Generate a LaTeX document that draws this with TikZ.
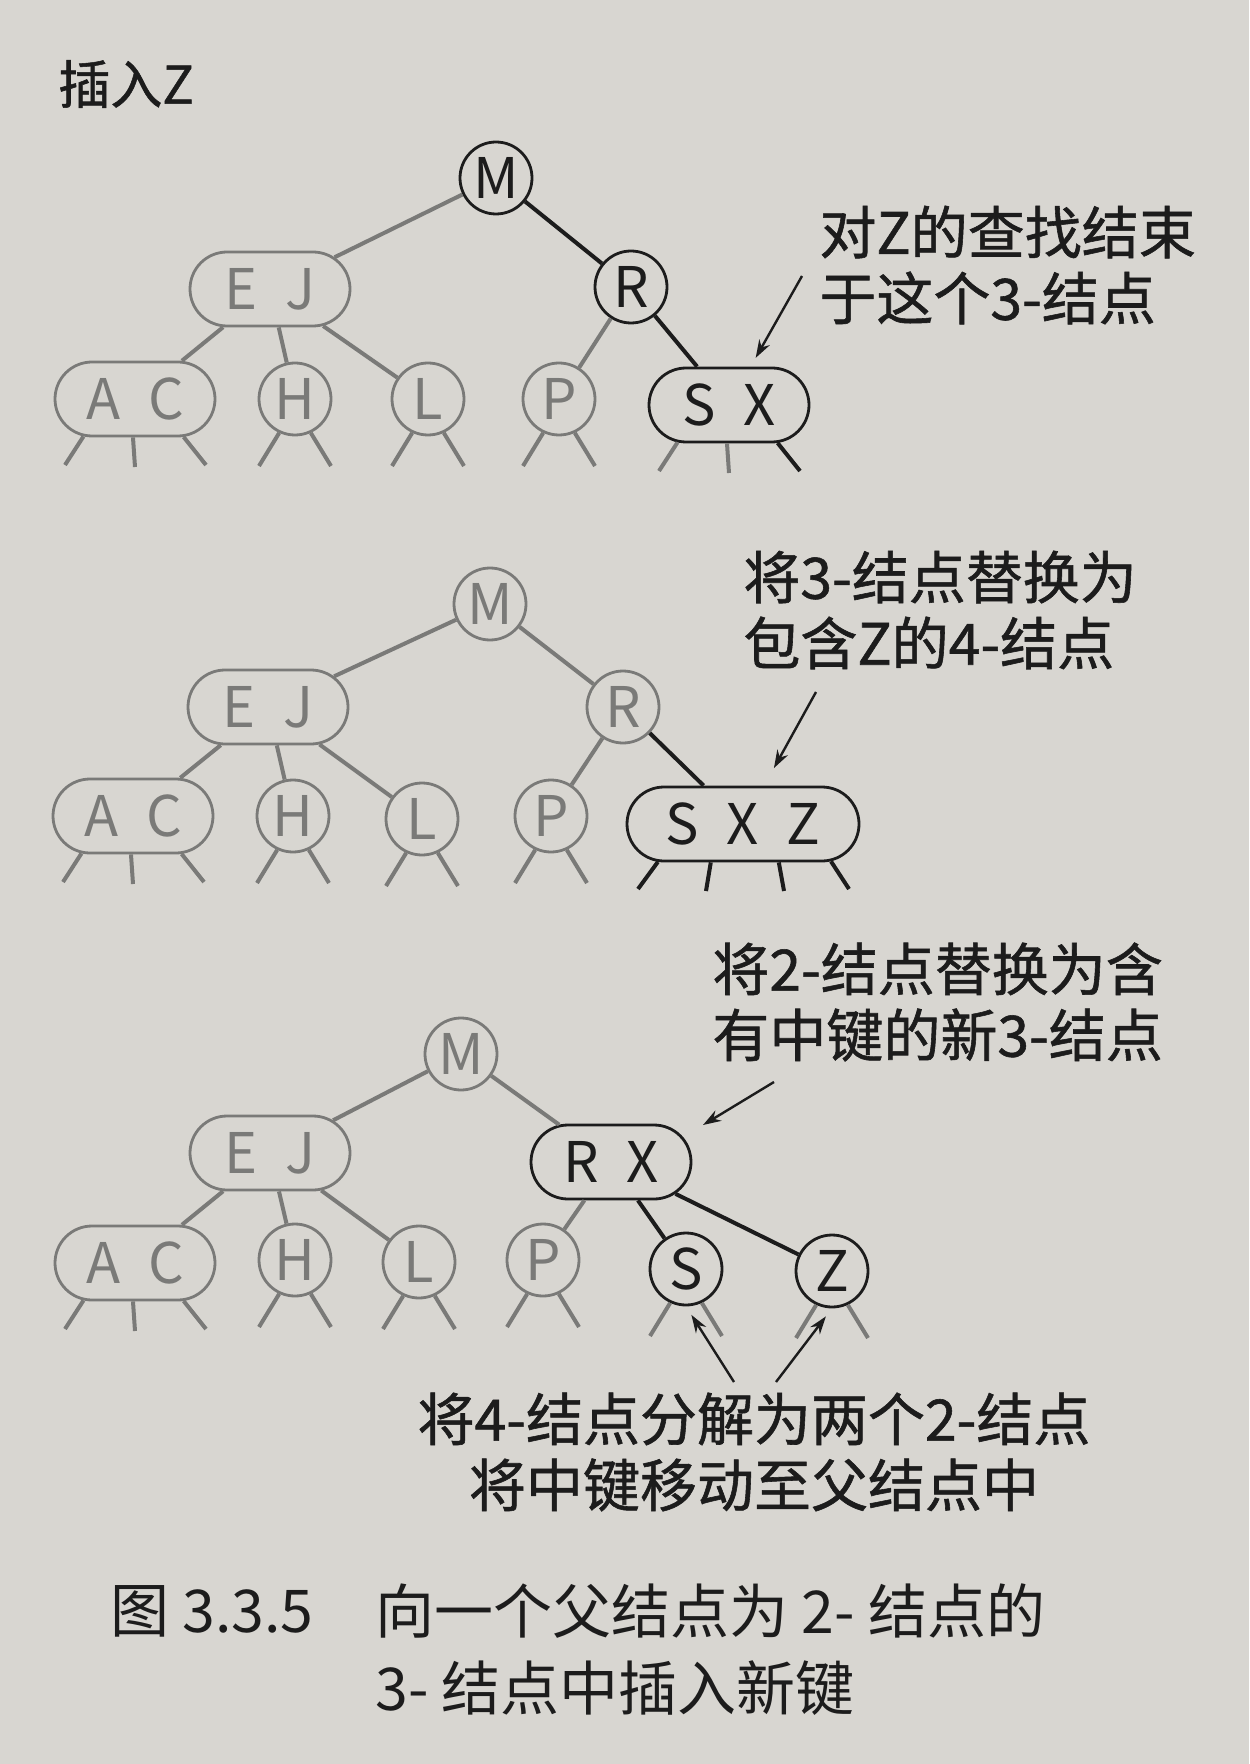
\documentclass[tikz,border=0pt]{standalone}
\usepackage{fontspec}
\usepackage{xcolor}
\setmainfont{Noto Sans CJK SC}
\newfontfamily\notefont{Noto Sans CJK SC}[FakeBold=1]
\newfontfamily\capfont{Noto Sans CJK SC}
\usetikzlibrary{shapes.misc, arrows.meta, calc}

\definecolor{paper}{RGB}{216,214,209}
\definecolor{inkdark}{RGB}{28,28,28}
\definecolor{inkpale}{RGB}{122,122,120}

\newcommand{\keygap}{\hspace{0.5em}}

\begin{document}
\begin{tikzpicture}[
    x=0.5pt, y=-0.5pt,
    key/.style={font=\fontsize{28}{30}\selectfont, line width=1.4pt, inner sep=1pt},
    twonode/.style={key, circle, minimum size=36pt},
    threenode/.style={key, rounded rectangle, minimum width=82pt, minimum height=37pt},
    fournode/.style={threenode, minimum width=118pt},
    pale/.style={draw=inkpale, text=inkpale},
    strong/.style={draw=inkdark, text=inkdark},
    palelink/.style={line width=2pt, draw=inkpale},
    stronglink/.style={line width=2pt, draw=inkdark},
    note/.style={font=\notefont\fontsize{28.5}{33}\selectfont, align=left, text=inkdark, inner sep=0pt},
    capnote/.style={font=\capfont\fontsize{29.5}{32}\selectfont, text=inkdark, inner sep=0pt},
    pointer/.style={-{Stealth[length=9pt,width=6pt]}, line width=1.2pt, draw=inkdark}
]

% Paper and page size
\fill[paper] (0,0) rectangle (1249,1764);
\useasboundingbox (0,0) rectangle (1249,1764);

% Title
\node[note, font=\notefont\fontsize{26}{28}\selectfont, anchor=west] (title) at (58,84) {插入Z};

% Tree 1: search for Z ends at the 3-node
\node[twonode, strong] (m1) at (496,178) {M};
\node[threenode, pale] (ej1) at (270,289) {E\keygap J};
\node[twonode, strong] (r1) at (631,287) {R};
\node[threenode, pale] (ac1) at (135,399) {A\keygap C};
\node[twonode, pale] (h1) at (295,399) {H};
\node[twonode, pale] (l1) at (428,399) {L};
\node[twonode, pale] (p1) at (559,399) {P};
\node[threenode, strong] (sx1) at (729,405) {S\keygap X};

\draw[palelink] (m1) -- (ej1);
\draw[stronglink] (m1) -- (r1);
\draw[palelink] (ej1) -- (ac1);
\draw[palelink] (ej1) -- (h1);
\draw[palelink] (ej1) -- (l1);
\draw[palelink] (r1) -- (p1);
\draw[stronglink] (r1) -- (sx1);

% Tree 2: the 3-node becomes a 4-node
\node[twonode, pale] (m2) at (490,604) {M};
\node[threenode, pale] (ej2) at (268,707) {E\keygap J};
\node[twonode, pale] (r2) at (623,707) {R};
\node[threenode, pale] (ac2) at (133,816) {A\keygap C};
\node[twonode, pale] (h2) at (293,816) {H};
\node[twonode, pale] (l2) at (422,819) {L};
\node[twonode, pale] (p2) at (551,816) {P};
\node[fournode, strong] (sxz2) at (743,824) {S\keygap X\keygap Z};

\draw[palelink] (m2) -- (ej2);
\draw[palelink] (m2) -- (r2);
\draw[palelink] (ej2) -- (ac2);
\draw[palelink] (ej2) -- (h2);
\draw[palelink] (ej2) -- (l2);
\draw[palelink] (r2) -- (p2);
\draw[stronglink] (r2) -- (sxz2);

% Tree 3: split, middle key moves up
\node[twonode, pale] (m3) at (461,1054) {M};
\node[threenode, pale] (ej3) at (270,1153) {E\keygap J};
\node[threenode, strong] (rx3) at (611,1162) {R\keygap X};
\node[threenode, pale] (ac3) at (135,1263) {A\keygap C};
\node[twonode, pale] (h3) at (295,1260) {H};
\node[twonode, pale] (l3) at (419,1262) {L};
\node[twonode, pale] (p3) at (543,1260) {P};
\node[twonode, strong] (s3) at (686,1269) {S};
\node[twonode, strong] (z3) at (832,1271) {Z};

\draw[palelink] (m3) -- (ej3);
\draw[palelink] (m3) -- (rx3);
\draw[palelink] (ej3) -- (ac3);
\draw[palelink] (ej3) -- (h3);
\draw[palelink] (ej3) -- (l3);
\draw[palelink] (rx3) -- (p3);
\draw[stronglink] (rx3) -- (s3);
\draw[stronglink] (rx3) -- (z3);

% Null links under the 2-nodes
\foreach \n in {h1,l1,p1,h2,l2,p2,h3,l3,p3,s3,z3} {
  \coordinate (\n-1) at ($(\n)+(-36,67)$);
  \coordinate (\n-2) at ($(\n)+(36,67)$);
  \draw[palelink] (\n.-115) -- (\n-1);
  \draw[palelink] (\n.-65) -- (\n-2);
}

% Null links under the 3-nodes
\foreach \n in {ac1,ac2,ac3,sx1} {
  \coordinate (\n-1) at ($(\n)+(-70,66)$);
  \coordinate (\n-2) at ($(\n)+(0,68)$);
  \coordinate (\n-3) at ($(\n)+(71,66)$);
}
\foreach \n in {ac1,ac2,ac3} {
  \draw[palelink] (\n.-144) -- (\n-1);
  \draw[palelink] (\n.-93) -- (\n-2);
  \draw[palelink] (\n.-38) -- (\n-3);
}
\draw[palelink] (sx1.-144) -- (sx1-1);
\draw[palelink] (sx1.-93) -- (sx1-2);
\draw[stronglink] (sx1.-38) -- (sx1-3);

% Null links under the 4-node
\coordinate (sxz2-1) at ($(sxz2)+(-105,65)$);
\coordinate (sxz2-2) at ($(sxz2)+(-37,67)$);
\coordinate (sxz2-3) at ($(sxz2)+(41,67)$);
\coordinate (sxz2-4) at ($(sxz2)+(106,65)$);
\draw[stronglink] (sxz2.-156) -- (sxz2-1);
\draw[stronglink] (sxz2.-130) -- (sxz2-2);
\draw[stronglink] (sxz2.-47) -- (sxz2-3);
\draw[stronglink] (sxz2.-23) -- (sxz2-4);

% Notes and pointers
\node[note, anchor=west] (note1) at (819,265) {对Z的查找结束\\于这个3-结点};
\coordinate (tail1) at (802,276);
\draw[pointer, shorten >=5pt] (tail1) -- (sx1);

\node[note, anchor=west] (note2) at (743,610) {将3-结点替换为\\包含Z的4-结点};
\coordinate (tail2) at (816,692);
\draw[pointer, shorten >=10pt] (tail2) -- (sxz2);

\node[note, anchor=west] (note3) at (712,1002) {将2-结点替换为含\\有中键的新3-结点};
\coordinate (tail3) at (774,1082);
\coordinate (head3) at (703,1125);
\draw[pointer] (tail3) -- (head3);

\node[note, align=center] (note4) at (754,1452) {将4-结点分解为两个2-结点\\将中键移动至父结点中};
\coordinate (tail4) at (734,1382);
\coordinate (tail5) at (776,1382);
\draw[pointer, shorten >=5pt] (tail4) -- (s3.south);
\draw[pointer, shorten >=5pt] (tail5) -- (z3.south);

% Caption
\node[capnote, anchor=west] (figno) at (110,1611) {图 3.3.5};
\node[capnote, anchor=west] (cap1) at (375,1611) {向一个父结点为 2- 结点的};
\node[capnote, anchor=west] (cap2) at (375,1688) {3- 结点中插入新键};

\end{tikzpicture}
\end{document}
